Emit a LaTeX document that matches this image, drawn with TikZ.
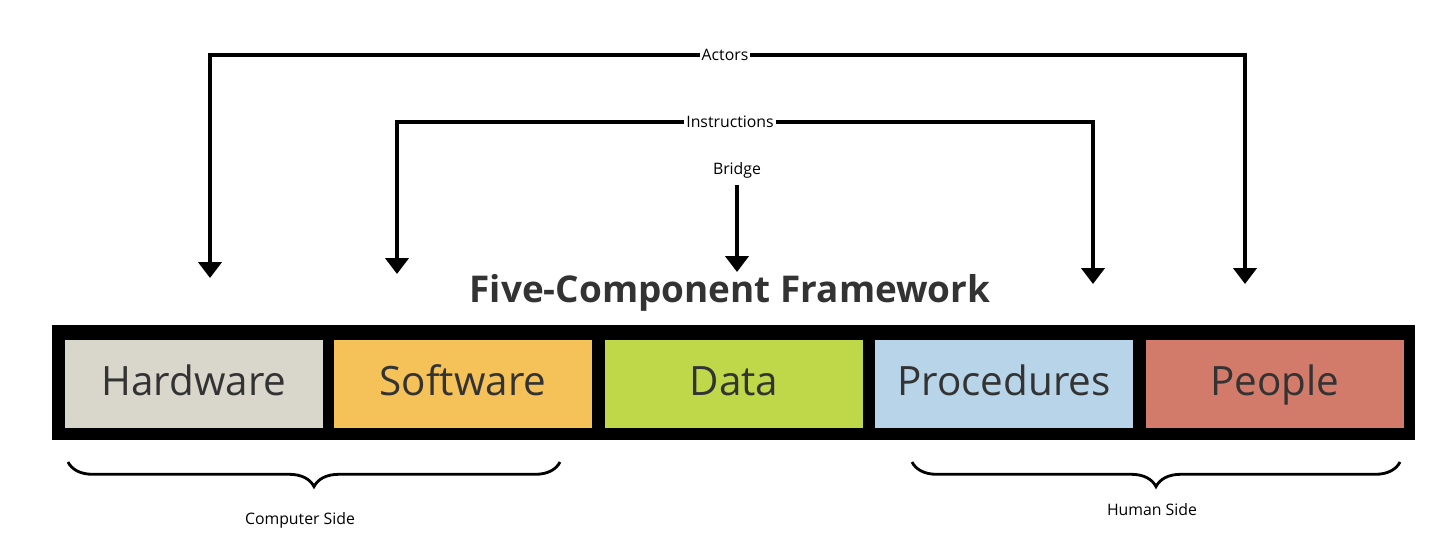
\documentclass[tikz,border=0pt]{standalone}
\usepackage{fontspec}
\setmainfont{Open Sans}
\usetikzlibrary{arrows.meta,decorations.pathreplacing,positioning}
\definecolor{hwgray}{RGB}{217,214,204}
\definecolor{swyellow}{RGB}{245,194,90}
\definecolor{dagreen}{RGB}{191,216,74}
\definecolor{prblue}{RGB}{184,212,232}
\definecolor{pered}{RGB}{211,123,106}
\tikzstyle{comp}=[rectangle, draw=none, minimum width=5.16cm, minimum height=1.76cm, text height=0.62cm, text depth=0.18cm, font=\fontsize{23}{23}\selectfont, text=black!80, inner sep=0pt]
\tikzstyle{link}=[line width=2.6pt, -{Triangle[length=9pt,width=13pt]}]
\tikzstyle{tag}=[font=\fontsize{9}{9}\selectfont, fill=white, inner sep=1pt]
\tikzstyle{brace}=[decorate, decoration={brace, amplitude=14pt, mirror}, line width=1.6pt]
\begin{document}
\begin{tikzpicture}[x=0.02cm, y=-0.02cm]
    \useasboundingbox (0,0) rectangle (1440,535);
    % frame and components
    \fill [black] (52,325) rectangle (1415,440);
    \node [style=comp, fill=hwgray] (hw) at (194,384) {Hardware};
    \node [style=comp, fill=swyellow] (sw) at (463,384) {Software};
    \node [style=comp, fill=dagreen] (da) at (734,384) {Data};
    \node [style=comp, fill=prblue] (pr) at (1004,384) {Procedures};
    \node [style=comp, fill=pered] (pe) at (1275,384) {People};
    \node [font=\fontsize{21}{21}\selectfont\bfseries, text=black!80] (title) at (730,293) {Five-Component Framework};

    % labels
    \node [style=tag] (actors) at (725,55) {Actors};
    \node [style=tag] (instr) at (730,122) {Instructions};
    \node [style=tag] (bridge) at (737,170) {Bridge};
    \coordinate (hwtip) at (210,278);
    \coordinate (swtip) at (397,274);
    \coordinate (datip) at (737,272);
    \coordinate (prtip) at (1093,284);
    \coordinate (petip) at (1245,284);

    % arrows
    \draw [style=link] (actors.west) -| (hwtip);
    \draw [style=link] (actors.east) -| (petip);
    \draw [style=link] (instr.west) -| (swtip);
    \draw [style=link] (instr.east) -| (prtip);
    \draw [style=link] (bridge.south) ++(0,5) -- (datip);

    % braces
    \coordinate (cl) at (68,462);
    \coordinate (cr) at (560,462);
    \coordinate (hl) at (912,462);
    \coordinate (hr) at (1400,462);
    \draw [style=brace] (cl) -- (cr);
    \draw [style=brace] (hl) -- (hr);
    \node [style=tag] (comp) at (300,520) {Computer Side};
    \node [style=tag] (human) at (1152,510) {Human Side};
\end{tikzpicture}
\end{document}
